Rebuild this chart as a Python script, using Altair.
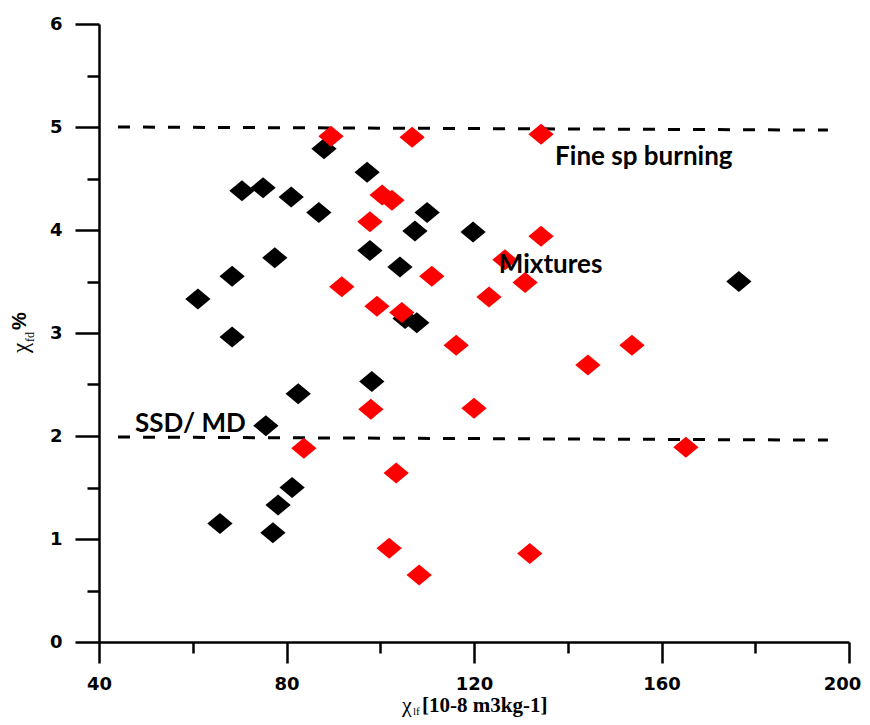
import altair as alt
import pandas as pd

# ---- data ----
black_x = [61.1, 68.4, 68.4, 70.5, 75.0, 81.0, 77.5, 86.9, 88.0, 97.2, 97.8, 104.2,
           107.4, 110.0, 119.8, 105.3, 107.8, 98.2, 82.5, 75.6, 81.2, 78.2, 65.8, 77.1, 176.5]
black_y = [3.33, 3.55, 2.96, 4.38, 4.41, 4.32, 3.73, 4.17, 4.79, 4.56, 3.80, 3.64,
           3.99, 4.17, 3.98, 3.14, 3.10, 2.53, 2.41, 2.10, 1.50, 1.33, 1.15, 1.06, 3.50]

red_x = [89.5, 106.8, 134.3, 100.4, 102.5, 97.8, 134.3, 126.6, 111.0, 91.8, 130.9, 99.3,
         104.6, 123.2, 116.2, 153.7, 144.3, 98.0, 120.0, 83.7, 165.2, 103.4, 101.9, 108.3, 131.9]
red_y = [4.91, 4.90, 4.93, 4.34, 4.29, 4.08, 3.94, 3.71, 3.55, 3.45, 3.49, 3.26,
         3.20, 3.35, 2.88, 2.88, 2.69, 2.26, 2.27, 1.88, 1.89, 1.64, 0.91, 0.65, 0.86]

line_x1 = [44.05, 44.05]
line_x2 = [195.5, 195.5]
line_y1 = [5.00, 1.99]
line_y2 = [4.97, 1.96]

note_text = ["Fine sp burning", "Mixtures", "SSD/ MD"]
note_x = [137.3, 125.3, 47.7]
note_y = [4.63, 3.58, 2.04]

x_ticks = [40, 60, 80, 100, 120, 140, 160, 180, 200]
y_ticks = [0, 0.5, 1, 1.5, 2, 2.5, 3, 3.5, 4, 4.5, 5, 5.5, 6]

# ---- tables ----
df_black = pd.DataFrame({"x": black_x, "y": black_y})
df_red = pd.DataFrame({"x": red_x, "y": red_y})
df_lines = pd.DataFrame({"x1": line_x1, "x2": line_x2, "y1": line_y1, "y2": line_y2})
df_notes = pd.DataFrame({"t": note_text, "x": note_x, "y": note_y})
one = pd.DataFrame({"a": [0]})

xscale = alt.Scale(domain=[40, 200], nice=False, zero=False)
yscale = alt.Scale(domain=[0, 6], nice=False, zero=False)

common_axis = dict(
    title=None, grid=False, domainColor="black", domainWidth=2.5,
    tickColor="black", tickWidth=2.5, labelFont="DejaVu Sans",
    labelFontWeight="bold", labelFontSize=18, labelColor="black",
    labelFlush=False, labelOverlap=False,
)
x_axis = alt.Axis(
    values=x_ticks,
    tickSize={"condition": {"test": "datum.value % 40 === 0", "value": 21}, "value": 11},
    labelOffset={"condition": {"test": "datum.value === 200", "value": -7}, "value": 0},
    labelExpr="datum.value % 40 === 0 ? format(datum.value, 'd') : ''",
    labelPadding=12, **common_axis)
y_axis = alt.Axis(
    values=y_ticks,
    tickSize={"condition": {"test": "datum.value % 1 === 0", "value": 24}, "value": 12},
    labelExpr="datum.value % 1 === 0 ? format(datum.value, 'd') : ''",
    labelPadding=13, **common_axis)

diamond = "M-1,0L0,-0.83L1,0L0,0.83Z"

black_pts = alt.Chart(df_black).mark_point(
    shape=diamond, filled=True, size=640, color="black", opacity=1
).encode(
    x=alt.X("x:Q", scale=xscale, axis=x_axis),
    y=alt.Y("y:Q", scale=yscale, axis=y_axis),
)
red_pts = alt.Chart(df_red).mark_point(
    shape=diamond, filled=True, size=640, color="#ff0000", opacity=1
).encode(x=alt.X("x:Q", scale=xscale), y=alt.Y("y:Q", scale=yscale))

lines = alt.Chart(df_lines).mark_rule(
    color="black", strokeWidth=3, strokeDash=[12, 13]
).encode(
    x=alt.X("x1:Q", scale=xscale), x2="x2:Q",
    y=alt.Y("y1:Q", scale=yscale), y2="y2:Q",
)

notes = alt.Chart(df_notes).mark_text(
    font="Lato", fontWeight="bold", fontSize=26, align="left",
    baseline="alphabetic", color="black"
).encode(x=alt.X("x:Q", scale=xscale), y=alt.Y("y:Q", scale=yscale), text="t:N")


def piece(txt, px, py, font, size, weight="normal", angle=0):
    return alt.Chart(one).mark_text(
        text=txt, font=font, fontSize=size, fontWeight=weight, angle=angle,
        align="left", baseline="alphabetic", color="black"
    ).encode(x=alt.value(px), y=alt.value(py))


titles = [
    piece("χ", 303, 688, "Liberation Serif", 22),
    piece("lf", 314, 691, "Liberation Serif", 11),
    piece("[10-8 m3kg-1]", 323, 688, "Liberation Serif", 21, "bold"),
    piece("χ", -71, 329, "Liberation Serif", 23, angle=270),
    piece("fd", -65, 318, "Liberation Serif", 12, angle=270),
    piece("%", -73, 306, "Liberation Sans", 20, "bold", angle=270),
]

chart = alt.layer(black_pts, lines, red_pts, notes, *titles).properties(
    width=750, height=618, background="white",
    view=alt.ViewBackground(strokeWidth=0, strokeOpacity=0),
    autosize=alt.AutoSizeParams(type="none"),
    padding={"left": 91, "top": 16, "right": 13, "bottom": 75},
).configure_view(strokeWidth=0, strokeOpacity=0).configure_axis(grid=False)

chart.save("out.html", embed_options={"renderer": "svg", "actions": False})
